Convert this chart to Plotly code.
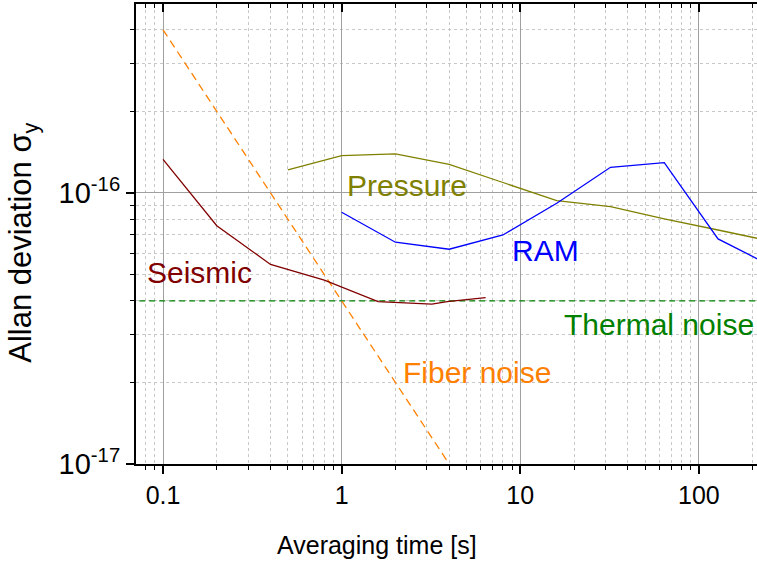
import numpy as np
import plotly.graph_objects as go

# Averaging times [s] and Allan deviations for each noise contribution
tau_seismic = [0.1, 0.2, 0.4, 0.8, 1.6, 3.2, 3.9, 6.4]
sigma_seismic = [1.33e-16, 7.57e-17, 5.45e-17, 4.77e-17, 3.97e-17, 3.89e-17, 3.97e-17, 4.11e-17]

tau_pressure = [0.5, 1, 2, 4, 8, 16, 32, 64, 128, 256]
sigma_pressure = [1.216e-16, 1.373e-16, 1.393e-16, 1.276e-16, 1.093e-16, 9.37e-17, 8.90e-17, 8.02e-17, 7.30e-17, 6.63e-17]

tau_ram = [1, 2, 4, 8, 16, 32, 64, 128, 256]
sigma_ram = [8.49e-17, 6.58e-17, 6.20e-17, 7.00e-17, 9.16e-17, 1.244e-16, 1.294e-16, 6.77e-17, 5.37e-17]

tau_fiber = [0.1, 4]
sigma_fiber = [4e-16, 1e-17]

tau_thermal = [0.05, 300]
sigma_thermal = [4e-17, 4e-17]

# Curve labels: text, colour, label centre (tau, sigma)
labels = [
    ("Pressure", "#808000", 2.32, 1.07e-16),
    ("RAM", "#0000FF", 13.86, 6.11e-17),
    ("Seismic", "#800000", 0.160, 5.07e-17),
    ("Thermal noise", "#008000", 60.0, 3.26e-17),
    ("Fiber noise", "#FF8000", 5.70, 2.18e-17),
]

FONT = "Arial, Liberation Sans, sans-serif"
X_RANGE = [np.log10(0.0706), np.log10(211.5)]
Y_RANGE = [-17, np.log10(4.98e-16)]

fig = go.Figure()

fig.add_trace(go.Scatter(x=tau_thermal, y=sigma_thermal, mode="lines",
                         line=dict(color="#008000", width=1.3, dash="6px,4px")))
fig.add_trace(go.Scatter(x=tau_fiber, y=sigma_fiber, mode="lines",
                         line=dict(color="#FF8000", width=1.3, dash="8px,5px")))
fig.add_trace(go.Scatter(x=tau_seismic, y=sigma_seismic, mode="lines",
                         line=dict(color="#800000", width=1.3)))
fig.add_trace(go.Scatter(x=tau_pressure, y=sigma_pressure, mode="lines",
                         line=dict(color="#808000", width=1.3)))
fig.add_trace(go.Scatter(x=tau_ram, y=sigma_ram, mode="lines",
                         line=dict(color="#0000FF", width=1.3)))

for text, color, tx, sy in labels:
    fig.add_annotation(x=np.log10(tx), y=np.log10(sy), xref="x", yref="y",
                       text=text, showarrow=False, xanchor="center", yanchor="middle",
                       font=dict(family=FONT, size=30, color=color))

# Axis titles
fig.add_annotation(x=0.388, y=-0.176, xref="paper", yref="paper",
                   xanchor="center", yanchor="middle",
                   text="Averaging time [s]", showarrow=False,
                   font=dict(family=FONT, size=25, color="black"))
fig.add_annotation(x=-0.181, y=0.48, xref="paper", yref="paper",
                   xanchor="center", yanchor="middle",
                   text="Allan deviation σ<sub>y</sub>", showarrow=False, textangle=-90,
                   font=dict(family=FONT, size=31, color="black"))

minor_grid = dict(ticks="outside", ticklen=4, tickwidth=1.3, tickcolor="black",
                  dtick="D1", showgrid=True, gridcolor="#c8c8c8", griddash="dot", gridwidth=1)

fig.update_xaxes(
    type="log", range=X_RANGE, tickvals=[0.1, 1, 10, 100], ticktext=["0.1", "1", "10", "100"],
    ticks="outside", ticklen=8, tickwidth=1.5, tickcolor="black",
    showline=True, linecolor="black", linewidth=2,
    showgrid=True, gridcolor="#a0a0a0", gridwidth=1,
    tickfont=dict(family=FONT, size=25, color="black"),
    minor=minor_grid, zeroline=False,
)
fig.update_yaxes(
    type="log", range=Y_RANGE, tickvals=[1e-17, 1e-16],
    ticktext=["10<sup>-17</sup>", "10<sup>-16</sup>"],
    ticks="outside", ticklen=8, tickwidth=1.5, tickcolor="black",
    showline=True, linecolor="black", linewidth=2,
    showgrid=True, gridcolor="#a0a0a0", gridwidth=1,
    tickfont=dict(family=FONT, size=29, color="black"),
    minor=minor_grid, zeroline=False,
)

# Top frame with inward ticks
fig.update_layout(xaxis2=dict(
    type="log", range=X_RANGE, overlaying="x", side="top", anchor="y",
    tickvals=[0.1, 1, 10, 100], showticklabels=False,
    ticks="inside", ticklen=8, tickwidth=1.5, tickcolor="black",
    showline=True, linecolor="black", linewidth=2, showgrid=False,
    minor=dict(ticks="inside", ticklen=4, tickwidth=1.3, tickcolor="black", dtick="D1", showgrid=False),
    zeroline=False,
))
fig.add_trace(go.Scatter(x=[1], y=[1e-16], xaxis="x2", mode="markers",
                         marker=dict(opacity=0), hoverinfo="skip"))

fig.update_layout(
    width=757, height=565,
    margin=dict(l=136, r=0, t=4, b=101),
    paper_bgcolor="white", plot_bgcolor="white",
    showlegend=False,
)

fig.write_html("out.html")
